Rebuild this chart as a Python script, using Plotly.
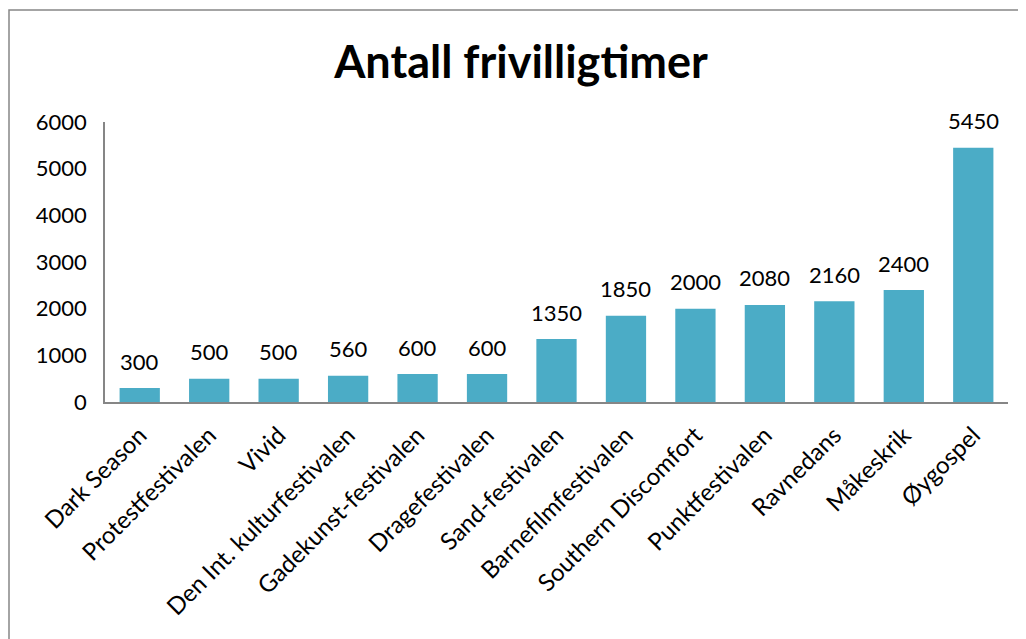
import plotly.graph_objects as go

categories = ["Dark Season", "Protestfestivalen", "Vivid", "Den Int. kulturfestivalen",
              "Gadekunst-festivalen", "Dragefestivalen", "Sand-festivalen",
              "Barnefilmfestivalen", "Southern Discomfort", "Punktfestivalen",
              "Ravnedans", "Måkeskrik", "Øygospel"]
hours = [300, 500, 500, 560, 600, 600, 1350, 1850, 2000, 2080, 2160, 2400, 5450]
y_ticks = [0, 1000, 2000, 3000, 4000, 5000, 6000]

OFF = 8  # page body margin
W, H = 1026, 639
L, T = 105 - OFF, 122 - OFF
pw, ph = 903, 280
R, B = W - L - pw, H - T - ph

fig = go.Figure(go.Bar(
    x=categories, y=hours, marker=dict(color="#4BACC6", line=dict(width=0)),
    width=0.58, cliponaxis=False,
))

for c, v in zip(categories, hours):
    fig.add_annotation(x=c, y=v, text=str(v), showarrow=False, yanchor="middle",
                       yshift=27, font=dict(family="Lato", size=22, color="#000000"))

fig.update_layout(
    width=W, height=H, margin=dict(l=L, r=R, t=T, b=B),
    paper_bgcolor="white", plot_bgcolor="white", showlegend=False,
    title=dict(text="<b>Antall frivilligtimer</b>", x=0.5, xanchor="center",
               y=1 - (62 - OFF) / H, yanchor="middle",
               font=dict(family="Lato", size=45, color="#000000")),
    font=dict(family="Lato", size=22, color="#000000"),
    xaxis=dict(tickangle=-45, showline=True, linecolor="#868686", linewidth=1.5,
               ticks="", showgrid=False, ticklabelstandoff=8,
               tickfont=dict(family="Lato", size=24)),
    yaxis=dict(range=[0, 6000], tickvals=y_ticks, showline=True, linecolor="#868686",
               linewidth=1.5, ticks="", showgrid=False, zeroline=False,
               ticklabelstandoff=12, tickfont=dict(family="Lato", size=22)),
    shapes=[dict(type="rect", xref="paper", yref="paper",
                 x0=(9 - OFF - L) / pw, x1=(1060 - L) / pw,
                 y0=(T + ph - 680) / ph, y1=(T + ph - (10 - OFF)) / ph,
                 line=dict(color="#868686", width=1.5), fillcolor="rgba(0,0,0,0)",
                 layer="below")],
)

fig.write_html("out.html")
